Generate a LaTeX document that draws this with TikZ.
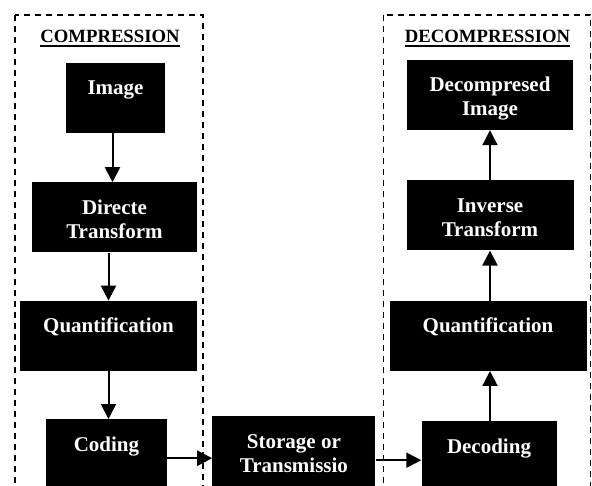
\documentclass[tikz,border=0pt]{standalone}
\usepackage{fontspec}
\setmainfont{Liberation Serif}
\usepackage{tikz}
\usetikzlibrary{arrows.meta, positioning}

% heading text with a thick rule under it
\newcommand{\headrule}[1]{\leavevmode\vtop{\hbox{#1}\kern2.3pt\hrule height 1.8pt}}

\begin{document}
\begin{tikzpicture}[
    x=1pt, y=-1pt,
    node distance=48pt and 45pt,
    blk/.style={rectangle, fill=black, text=white, minimum width=#1, inner xsep=0pt, inner ysep=0pt,
        text height=32pt, text depth=38pt, align=center, font=\fontsize{21}{24}\selectfont\bfseries},
    blk/.default=120pt,
    twoline/.style={text height=56pt, text depth=#1},
    twoline/.default=14pt,
    head/.style={anchor=base, inner sep=0pt, font=\fontsize{18.7}{22}\selectfont\bfseries},
    frame/.style={dash pattern=on 6pt off 5pt, line width=1.4pt},
    arrow/.style={-{Triangle[width=15pt, length=15pt]}, line width=2pt}
]
\useasboundingbox (0,0) rectangle (592,486);

% Dashed frames
\draw[frame] (15,15) rectangle (203,500);
\draw[frame] (383.5,15) rectangle (590.5,500);

% Headings
\node[head] (comphead) at (110,42.5) {\headrule{COMPRESSION}};
\node[head] (decomphead) at (487.5,42.5) {\headrule{DECOMPRESSION}};

% Compression blocks
\node[blk=99pt] (image) at (115.5,98) {Image};
\node[blk=165pt, twoline, below=49pt of image, xshift=-1pt] (directe) {Directe\\Transform};
\node[blk=177pt, below=of directe, xshift=-6pt] (quantc) {Quantification};
\node[blk=121pt, below=of quantc, xshift=-2pt, text depth=46pt] (coding) {Coding};

% Storage in between
\node[blk=163pt, twoline=28pt, right=of coding] (storage) {Storage or\\Transmissio};

% Decompression blocks
\node[blk=166pt, twoline] (decomp) at (490,95) {Decompresed\\Image};
\node[blk=167pt, twoline, below=50pt of decomp] (inverse) {Inverse\\Transform};
\node[blk=197pt, below=50pt of inverse, xshift=-2pt] (quantd) {Quantification};
\node[blk=135pt, below=50pt of quantd, xshift=1pt, text depth=46pt] (decoding) {Decoding};

% Arrows
\draw[arrow] ([xshift=-3pt]image.south) -- ([xshift=-3pt]image.south |- directe.north);
\draw[arrow] (directe.south -| quantc.north) -- (quantc.north);
\draw[arrow] (quantc) -- (quantc |- coding.north);
\draw[arrow] (coding) -- (coding -| storage.west);
\draw[arrow] (storage.east |- decoding) -- (decoding);
\draw[arrow] (decoding.north -| inverse) -- (inverse |- quantd.south);
\draw[arrow] (quantd.north -| inverse) -- (inverse);
\draw[arrow] (inverse) -- (decomp);
\end{tikzpicture}
\end{document}
